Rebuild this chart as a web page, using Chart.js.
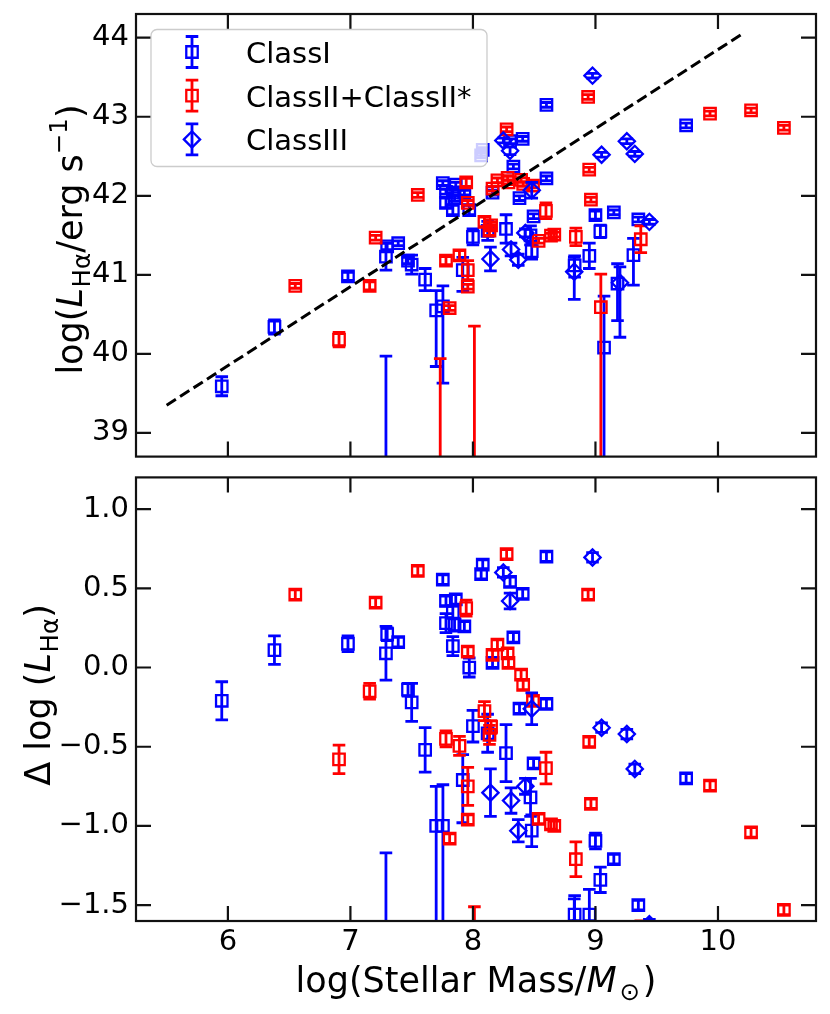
<!DOCTYPE html>
<html>
<head>
<meta charset="utf-8">
<script src="https://cdn.jsdelivr.net/npm/chart.js@4.4.1/dist/chart.umd.min.js"></script>
<style>
  html, body { margin: 0; padding: 0; background: #fff; }
  #fig { position: relative; width: 830px; height: 1014px; background: #fff; }
  #fig canvas { position: absolute; left: 0; }
</style>
</head>
<body>
<div id="fig">
  <canvas id="top" width="830" height="467" style="top:0"></canvas>
  <canvas id="bottom" width="830" height="547" style="top:467px"></canvas>
</div>
<script>
// ── Data ────────────────────────────────────────────────────────────────────
const massTicks = [6, 7, 8, 9, 10];
const lumTicks = [39, 40, 41, 42, 43, 44];
const deltaTicks = [-1.5, -1.0, -0.5, 0.0, 0.5, 1.0];

// dashed relation in the upper panel (end points)
const fitMass = [5.5, 10.2];
const fitLum = [39.35, 44.05];

const classIMass = [5.95, 6.38, 6.98, 7.29, 7.30, 7.39, 7.47, 7.50, 7.61, 7.70, 7.755, 7.29, 7.754, 7.78, 7.86, 7.836, 7.78, 7.85, 7.93, 7.836, 7.97, 8.067, 8.08, 7.917, 8.00, 8.12, 8.16, 8.27, 8.303, 8.406, 8.33, 8.38, 8.60, 8.60, 8.495, 8.47, 8.48, 8.83, 8.95, 9.00, 9.04, 9.07, 9.15, 9.18, 9.31, 9.35, 9.74];
const classILum = [39.59, 40.34, 40.98, 41.23, 41.36, 41.40, 41.18, 41.13, 40.94, 40.55, 40.60, 38.30, 42.16, 42.05, 42.14, 42.04, 41.91, 41.97, 42.04, 41.82, 41.82, 42.51, 42.58, 41.06, 41.48, 41.555, 42.04, 41.58, 42.69, 42.72, 42.37, 41.97, 43.15, 42.22, 41.74, 41.50, 41.30, 41.12, 41.24, 41.755, 41.55, 40.08, 41.79, 40.89, 41.25, 41.70, 42.89];
const classIDelta = [-0.21, 0.11, 0.15, 0.09, 0.21, 0.16, -0.14, -0.22, -0.52, -1.00, -1.00, -2.84, 0.555, 0.42, 0.43, 0.35, 0.28, 0.27, 0.26, 0.135, 0.00, 0.59, 0.65, -0.71, -0.37, -0.415, 0.03, -0.54, 0.54, 0.465, 0.19, -0.26, 0.70, -0.23, -0.605, -0.82, -1.03, -1.56, -1.56, -1.095, -1.34, -2.84, -1.21, -2.14, -1.91, -1.50, -0.70];
const classIErrLo = [0.12, 0.09, 0.05, 0.17, 0.04, 0.03, 0.04, 0.12, 0.14, 0.71, 0.97, 1.50, 0.03, 0.03, 0.03, 0.04, 0.06, 0.04, 0.03, 0.06, 0.06, 0.03, 0.03, 0.27, 0.10, 0.12, 0.03, 0.18, 0.03, 0.03, 0.03, 0.03, 0.03, 0.03, 0.03, 0.12, 0.10, 0.15, 0.16, 0.05, 0.08, 1.50, 0.03, 0.47, 0.38, 0.03, 0.03];
const classIErrHi = [0.12, 0.09, 0.05, 0.17, 0.04, 0.03, 0.04, 0.12, 0.14, 0.25, 0.26, 1.67, 0.03, 0.03, 0.03, 0.04, 0.06, 0.04, 0.03, 0.06, 0.06, 0.03, 0.03, 0.16, 0.10, 0.12, 0.03, 0.18, 0.03, 0.03, 0.03, 0.03, 0.03, 0.03, 0.03, 0.12, 0.10, 0.12, 0.16, 0.05, 0.08, 0.65, 0.03, 0.25, 0.21, 0.03, 0.03];

const classIIMass = [6.55, 6.907, 7.157, 7.206, 7.55, 7.733, 7.81, 8.012, 7.78, 7.89, 7.958, 7.958, 7.945, 7.958, 8.275, 8.20, 8.16, 8.283, 8.29, 8.393, 8.41, 8.49, 8.094, 8.148, 8.135, 8.536, 8.637, 8.664, 8.596, 8.84, 8.949, 8.963, 8.94, 9.044, 9.37, 9.935, 10.27, 10.538];
const classIILum = [40.86, 40.18, 40.86, 41.47, 42.01, 37.50, 40.58, 38.00, 41.18, 41.245, 41.06, 40.85, 42.17, 41.91, 42.84, 42.195, 42.09, 42.225, 42.17, 42.20, 42.15, 42.13, 41.67, 41.625, 41.56, 41.43, 41.495, 41.51, 41.81, 41.48, 42.33, 41.95, 43.25, 40.59, 41.45, 43.04, 43.08, 42.86];
const classIIDelta = [0.46, -0.58, -0.15, 0.41, 0.61, -4.08, -1.08, -3.86, -0.45, -0.495, -0.75, -0.96, 0.375, 0.10, 0.715, 0.145, 0.08, 0.09, 0.03, -0.045, -0.11, -0.21, -0.275, -0.375, -0.425, -0.955, -0.99, -1.00, -0.635, -1.21, -0.47, -0.86, 0.46, -2.30, -1.77, -0.745, -1.04, -1.53];
const classIIErrLo = [0.03, 0.09, 0.05, 0.03, 0.03, 1.00, 0.03, 1.00, 0.05, 0.06, 0.12, 0.03, 0.05, 0.03, 0.03, 0.03, 0.03, 0.03, 0.03, 0.03, 0.03, 0.03, 0.06, 0.04, 0.06, 0.03, 0.03, 0.03, 0.10, 0.11, 0.03, 0.03, 0.03, 2.00, 0.17, 0.03, 0.03, 0.03];
const classIIErrHi = [0.03, 0.09, 0.05, 0.03, 0.03, 2.44, 0.03, 2.35, 0.05, 0.06, 0.12, 0.03, 0.05, 0.03, 0.03, 0.03, 0.03, 0.03, 0.03, 0.03, 0.03, 0.03, 0.06, 0.04, 0.06, 0.03, 0.03, 0.03, 0.10, 0.11, 0.03, 0.03, 0.03, 0.42, 0.17, 0.03, 0.03, 0.03];

const classIIIMass = [8.976, 8.248, 8.303, 8.48, 8.143, 8.311, 8.428, 8.37, 9.05, 9.256, 9.321, 9.44, 8.827, 9.20];
const classIIILum = [43.52, 42.70, 42.57, 42.07, 41.20, 41.32, 41.53, 41.19, 42.52, 42.69, 42.53, 41.67, 41.04, 40.90];
const classIIIDelta = [0.695, 0.60, 0.42, -0.26, -0.79, -0.84, -0.75, -1.03, -0.38, -0.42, -0.64, -1.62, -1.64, -2.15];
const classIIIErrLo = [0.03, 0.03, 0.05, 0.10, 0.15, 0.08, 0.05, 0.07, 0.03, 0.03, 0.03, 0.03, 0.35, 0.69];
const classIIIErrHi = [0.03, 0.03, 0.05, 0.10, 0.15, 0.08, 0.05, 0.07, 0.03, 0.03, 0.03, 0.03, 0.18, 0.20];

// ── Styling ─────────────────────────────────────────────────────────────────
const FONT = '"DejaVu Sans", sans-serif';
const BLUE = '#0000ff';
const RED = '#ff0000';
const INK = '#111111';
const CAP = 6.3;
const TICK_LEN = 15;
const MARK_R = 8.1;
const TICK_FONT = 29;

Chart.defaults.font.family = FONT;
Chart.defaults.color = '#000';

function points(xs, ys) {
  return xs.map((x, i) => ({ x, y: ys[i] }));
}

function errDataset(label, xs, ys, lo, hi, color, style, order) {
  return {
    label,
    data: points(xs, ys),
    errLo: lo,
    errHi: hi,
    pointStyle: style,
    pointRadius: MARK_R,
    pointHoverRadius: MARK_R,
    borderColor: color,
    backgroundColor: 'rgba(0,0,0,0)',
    borderWidth: 2.3,
    pointBorderWidth: 2.3,
    order,
    clip: 0,
  };
}

// error bars drawn right before each dataset's markers
const errorBars = {
  id: 'errorBars',
  beforeDatasetDraw(chart, args) {
    const ds = chart.data.datasets[args.index];
    if (!ds.errLo) return;
    const { ctx, chartArea: a } = chart;
    const xs = chart.scales.x;
    const ys = chart.scales.y;
    ctx.save();
    ctx.beginPath();
    ctx.rect(a.left, a.top, a.right - a.left, a.bottom - a.top);
    ctx.clip();
    ctx.strokeStyle = ds.borderColor;
    ctx.lineWidth = 2.8;
    ds.data.forEach((p, j) => {
      const px = xs.getPixelForValue(p.x);
      const hi = ys.getPixelForValue(p.y + ds.errHi[j]);
      const lo = ys.getPixelForValue(p.y - ds.errLo[j]);
      ctx.beginPath();
      ctx.moveTo(px, hi); ctx.lineTo(px, lo);
      ctx.moveTo(px - CAP, hi); ctx.lineTo(px + CAP, hi);
      ctx.moveTo(px - CAP, lo); ctx.lineTo(px + CAP, lo);
      ctx.stroke();
    });
    ctx.restore();
  },
};

// box + inward ticks on all four sides (matplotlib look)
const frame = {
  id: 'frame',
  afterDatasetsDraw(chart, args, opts) {
    const { ctx, chartArea: a, scales } = chart;
    ctx.save();
    ctx.strokeStyle = INK;
    ctx.lineWidth = 2.2;
    ctx.beginPath();
    opts.yTicks.forEach((v) => {
      const py = scales.y.getPixelForValue(v);
      ctx.moveTo(a.left, py); ctx.lineTo(a.left + TICK_LEN, py);
      ctx.moveTo(a.right, py); ctx.lineTo(a.right - TICK_LEN, py);
    });
    opts.xTicks.forEach((v) => {
      const px = scales.x.getPixelForValue(v);
      ctx.moveTo(px, a.top); ctx.lineTo(px, a.top + TICK_LEN);
      ctx.moveTo(px, a.bottom); ctx.lineTo(px, a.bottom - TICK_LEN);
    });
    ctx.stroke();
    ctx.strokeRect(a.left, a.top, a.right - a.left, a.bottom - a.top);
    ctx.restore();
  },
};

function drawMarker(ctx, style, x, y, r) {
  ctx.beginPath();
  if (style === 'rectRot') {
    ctx.moveTo(x - r, y); ctx.lineTo(x, y - r); ctx.lineTo(x + r, y); ctx.lineTo(x, y + r);
    ctx.closePath();
  } else {
    const s = r * Math.SQRT1_2;
    ctx.rect(x - s, y - s, 2 * s, 2 * s);
  }
  ctx.stroke();
}

const legendBox = {
  id: 'legendBox',
  afterDraw(chart, args, opts) {
    if (!opts.entries) return;
    const { ctx } = chart;
    ctx.save();
    ctx.beginPath();
    ctx.roundRect(151, 29.5, 336, 137, 6);
    ctx.fillStyle = 'rgba(255,255,255,0.8)';
    ctx.fill();
    ctx.strokeStyle = '#cccccc';
    ctx.lineWidth = 1.3;
    ctx.stroke();
    opts.entries.forEach((e, i) => {
      const y = 52 + i * 43.7;
      const x = 192;
      ctx.strokeStyle = e.color;
      ctx.lineWidth = 2.8;
      ctx.beginPath();
      ctx.moveTo(x, y - 15.5); ctx.lineTo(x, y + 15.5);
      ctx.moveTo(x - CAP, y - 15.5); ctx.lineTo(x + CAP, y - 15.5);
      ctx.moveTo(x - CAP, y + 15.5); ctx.lineTo(x + CAP, y + 15.5);
      ctx.stroke();
      ctx.lineWidth = 2.3;
      drawMarker(ctx, e.style, x, y, MARK_R);
      ctx.fillStyle = '#000';
      ctx.font = '29px ' + FONT;
      ctx.textBaseline = 'alphabetic';
      ctx.textAlign = 'left';
      ctx.fillText(e.text, 246, y + 11);
    });
    ctx.restore();
  },
};

// text with italic / sub / superscript runs
function drawRich(ctx, runs, size, x, y, rotate) {
  ctx.save();
  ctx.translate(x, y);
  if (rotate) ctx.rotate(-Math.PI / 2);
  ctx.textBaseline = 'alphabetic';
  ctx.textAlign = 'left';
  ctx.fillStyle = '#000';
  const fontOf = (r) => (r.italic ? 'italic ' : '') + (r.script ? size * 0.7 : size) + 'px ' + FONT;
  let total = 0;
  runs.forEach((r) => {
    ctx.font = fontOf(r);
    r.w = ctx.measureText(r.t).width + (r.gap || 0) * size;
    total += r.w;
  });
  let cx = -total / 2;
  runs.forEach((r) => {
    ctx.font = fontOf(r);
    const dy = r.script === 'sub' ? size * 0.22 : r.script === 'sup' ? -size * 0.42 : 0;
    ctx.fillText(r.t, cx, dy);
    cx += r.w;
  });
  ctx.restore();
}

const axisTitles = {
  id: 'axisTitles',
  afterDraw(chart, args, opts) {
    (opts.items || []).forEach((it) => drawRich(chart.ctx, it.runs, it.size, it.x, it.y, it.rotate));
  },
};

const topLabel = [
  { t: 'log(' }, { t: 'L', italic: true, gap: 0.02 }, { t: 'H\u03b1', script: 'sub' },
  { t: '/erg s' }, { t: '\u22121', script: 'sup' }, { t: ')' },
];
const bottomLabel = [
  { t: '\u0394 log (' }, { t: 'L', italic: true, gap: 0.02 }, { t: 'H\u03b1', script: 'sub' }, { t: ')' },
];
const massLabel = [
  { t: 'log(Stellar Mass/' }, { t: 'M', italic: true, gap: 0.08 }, { t: '\u2299', script: 'sub', gap: 0.08 }, { t: ')' },
];

function axisX(display) {
  return {
    type: 'linear', min: 5.25, max: 10.8, display,
    grid: { display: false, drawTicks: false },
    border: { display: false },
    ticks: { font: { size: TICK_FONT }, color: '#000', padding: 4, callback: (v) => String(v) },
    afterBuildTicks: (s) => { s.ticks = massTicks.map((value) => ({ value })); },
    afterFit: (s) => {
      if (display) s.height = 93;
      s.paddingLeft = 0;
      s.paddingRight = 0;
    },
  };
}

function axisY(min, max, tickValues, fmt) {
  return {
    type: 'linear', min, max,
    grid: { display: false, drawTicks: false },
    border: { display: false },
    ticks: { font: { size: TICK_FONT }, color: '#000', padding: 7, callback: fmt },
    afterBuildTicks: (s) => { s.ticks = tickValues.map((value) => ({ value })); },
    afterFit: (s) => { s.width = 136; s.paddingTop = 0; s.paddingBottom = 0; },
  };
}

const commonOpts = {
  responsive: false,
  animation: false,
  events: [],
};

// ── Upper panel ─────────────────────────────────────────────────────────────
new Chart(document.getElementById('top'), {
  type: 'scatter',
  data: {
    datasets: [
      {
        type: 'line', label: 'relation', data: points(fitMass, fitLum), showLine: true,
        borderColor: '#000', borderWidth: 3, borderDash: [11, 5], pointRadius: 0, fill: false, order: 0,
      },
      errDataset('ClassIII', classIIIMass, classIIILum, classIIIErrLo, classIIIErrHi, BLUE, 'rectRot', 1),
      errDataset('ClassII+ClassII*', classIIMass, classIILum, classIIErrLo, classIIErrHi, RED, 'rect', 2),
      errDataset('ClassI', classIMass, classILum, classIErrLo, classIErrHi, BLUE, 'rect', 3),
    ],
  },
  options: {
    ...commonOpts,
    layout: { padding: { top: 14, right: 14, bottom: 2, left: 0 } },
    plugins: {
      legend: { display: false },
      tooltip: { enabled: false },
      frame: { xTicks: massTicks, yTicks: lumTicks },
      legendBox: {
        entries: [
          { text: 'ClassI', color: BLUE, style: 'rect' },
          { text: 'ClassII+ClassII*', color: RED, style: 'rect' },
          { text: 'ClassIII', color: BLUE, style: 'rectRot' },
        ],
      },
      axisTitles: { items: [{ runs: topLabel, size: 35, x: 82, y: 239.5, rotate: true }] },
    },
    scales: {
      x: axisX(false),
      y: axisY(38.7, 44.3, lumTicks, (v) => String(v)),
    },
  },
  plugins: [errorBars, frame, legendBox, axisTitles],
});

// ── Lower panel ─────────────────────────────────────────────────────────────
new Chart(document.getElementById('bottom'), {
  type: 'scatter',
  data: {
    datasets: [
      errDataset('ClassIII', classIIIMass, classIIIDelta, classIIIErrLo, classIIIErrHi, BLUE, 'rectRot', 1),
      errDataset('ClassII+ClassII*', classIIMass, classIIDelta, classIIErrLo, classIIErrHi, RED, 'rect', 2),
      errDataset('ClassI', classIMass, classIDelta, classIErrLo, classIErrHi, BLUE, 'rect', 3),
    ],
  },
  options: {
    ...commonOpts,
    layout: { padding: { top: 2, right: 14, bottom: 0, left: 0 } },
    plugins: {
      legend: { display: false },
      tooltip: { enabled: false },
      frame: { xTicks: massTicks, yTicks: deltaTicks },
      legendBox: {},
      axisTitles: {
        items: [
          { runs: bottomLabel, size: 35, x: 50, y: 228, rotate: true },
          { runs: massLabel, size: 35, x: 476, y: 525, rotate: false },
        ],
      },
    },
    scales: {
      x: axisX(true),
      y: axisY(-1.6, 1.2, deltaTicks, (v) => (v < 0 ? '\u2212' : '') + Math.abs(v).toFixed(1)),
    },
  },
  plugins: [errorBars, frame, legendBox, axisTitles],
});
</script>
</body>
</html>
